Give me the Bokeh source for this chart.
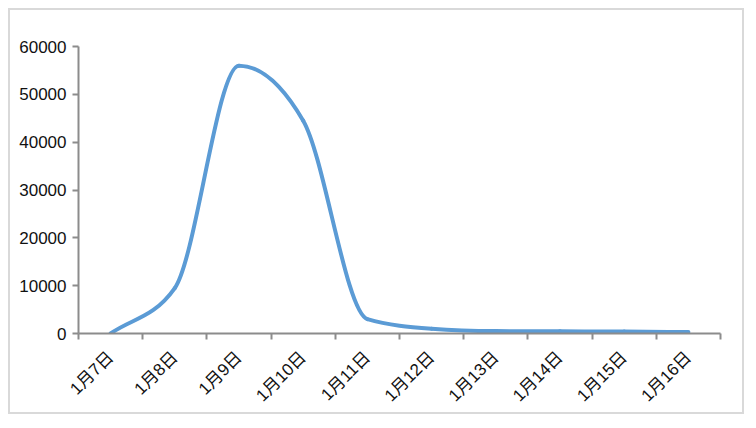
from bokeh.plotting import figure
from bokeh.models import Range1d, FixedTicker, NumeralTickFormatter
from bokeh.embed import file_html
from bokeh.resources import INLINE
import math

# ---- data ----
categories = ["1月7日", "1月8日", "1月9日", "1月10日", "1月11日",
              "1月12日", "1月13日", "1月14日", "1月15日", "1月16日"]
values = [0, 9500, 56000, 44500, 3000, 1000, 500, 450, 400, 300]
y_ticks = [0, 10000, 20000, 30000, 40000, 50000, 60000]

n = len(categories)
xs = [i + 0.5 for i in range(n)]

# Steffen monotone tangents for a smoothed line
s = [values[i + 1] - values[i] for i in range(n - 1)]
m = [0.0] * n
m[0] = s[0]
m[-1] = s[-1]
for i in range(1, n - 1):
    a, b = s[i - 1], s[i]
    sa = (a > 0) - (a < 0)
    sb = (b > 0) - (b < 0)
    pm = 0.5 * (a + b)
    m[i] = (sa + sb) * min(abs(a), abs(b), 0.5 * abs(pm))

x0 = xs[:-1]
y0 = values[:-1]
x1 = xs[1:]
y1 = values[1:]
cx0 = [xs[i] + 1 / 3 for i in range(n - 1)]
cy0 = [values[i] + m[i] / 3 for i in range(n - 1)]
cx1 = [xs[i + 1] - 1 / 3 for i in range(n - 1)]
cy1 = [values[i + 1] - m[i + 1] / 3 for i in range(n - 1)]

p = figure(width=736, height=406, output_backend="svg", toolbar_location=None,
           x_range=Range1d(0, n), y_range=Range1d(0, 60000),
           min_border_left=68, min_border_right=26, min_border_top=36,
           min_border_bottom=83)
p.styles = {"border": "2px solid #d9d9d9", "margin": "8px"}
p.outline_line_color = None
p.xgrid.visible = False
p.ygrid.visible = False

p.bezier(x0=x0, y0=y0, x1=x1, y1=y1, cx0=cx0, cy0=cy0, cx1=cx1, cy1=cy1,
         line_color="#5b9bd5", line_width=4, line_cap="round")

axis_color = "#8c8c8c"

# x axis: ticks at category boundaries, labels at centres
xa = p.xaxis[0]
xa.ticker = FixedTicker(ticks=xs, minor_ticks=list(range(n + 1)))
xa.major_label_overrides = {x: c for x, c in zip(xs, categories)}
xa.major_tick_line_color = None
xa.minor_tick_line_color = axis_color
xa.minor_tick_line_width = 2
xa.minor_tick_out = 6
xa.minor_tick_in = 0
xa.axis_line_color = axis_color
xa.axis_line_width = 2
xa.major_label_orientation = math.pi / 4
xa.major_label_text_font = "Liberation Sans, Noto Sans CJK SC"
xa.major_label_text_font_size = "17px"
xa.major_label_text_color = "#111111"
xa.major_label_standoff = 15

ya = p.yaxis[0]
ya.ticker = FixedTicker(ticks=y_ticks)
ya.formatter = NumeralTickFormatter(format="0")
ya.major_tick_line_color = axis_color
ya.major_tick_line_width = 2
ya.major_tick_out = 6
ya.major_tick_in = 0
ya.minor_tick_line_color = None
ya.axis_line_color = axis_color
ya.axis_line_width = 2
ya.major_label_text_font = "Liberation Sans"
ya.major_label_text_font_size = "17px"
ya.major_label_text_color = "#111111"
ya.major_label_standoff = 6

open("out.html", "w").write(file_html(p, INLINE))
